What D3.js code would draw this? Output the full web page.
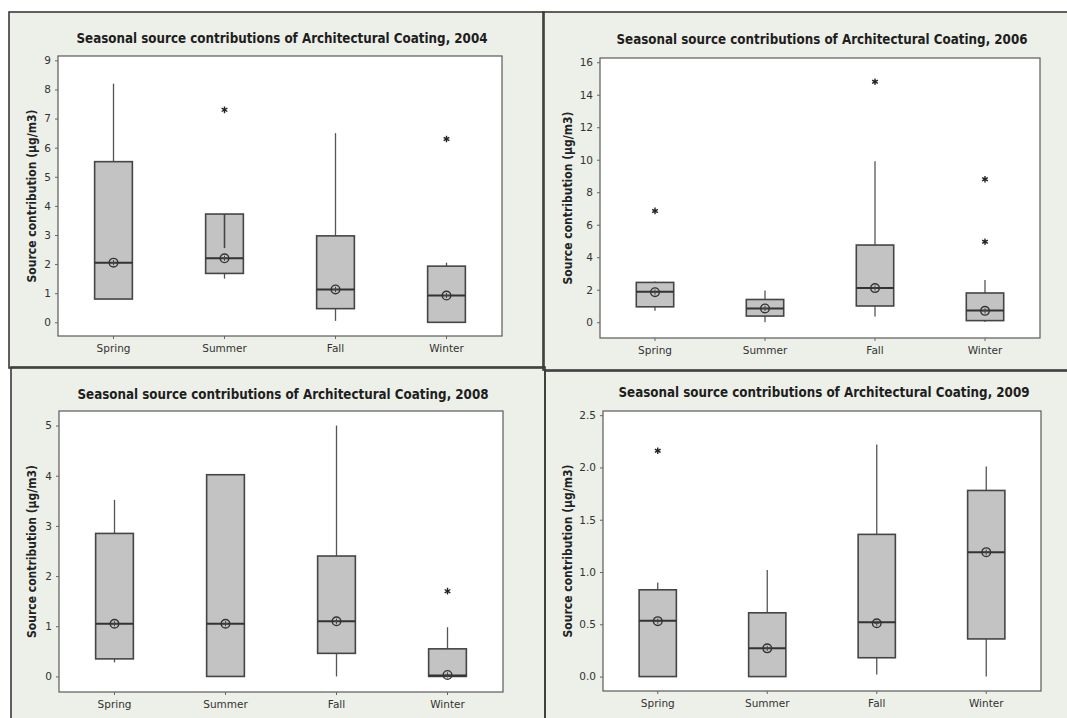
<!DOCTYPE html>
<html>
<head>
<meta charset="utf-8">
<script src="https://cdn.jsdelivr.net/npm/d3@7"></script>
<style>
  html, body { margin: 0; padding: 0; background: #ffffff; }
  svg { display: block; }
</style>
</head>
<body>
<svg id="chart" width="1067" height="718"></svg>
<script>
// Seasonal box-plot summaries (µg/m3) for each year.
const seasons = ["Spring", "Summer", "Fall", "Winter"];
const years = [2004, 2006, 2008, 2009];

const stats2004 = [
  { low: 0.8,  q1: 0.8,  median: 2.05, mean: 2.05, q3: 5.52, high: 8.2,  outliers: [] },
  { low: 1.5,  q1: 1.68, median: 2.2,  mean: 2.2,  q3: 3.72, high: 3.72, outliers: [7.3], inner: [2.55, 3.72] },
  { low: 0.05, q1: 0.47, median: 1.13, mean: 1.13, q3: 2.97, high: 6.5,  outliers: [] },
  { low: 0,    q1: 0,    median: 0.92, mean: 0.92, q3: 1.93, high: 2.05, outliers: [6.3] }
];
const stats2006 = [
  { low: 0.7,  q1: 0.95, median: 1.88, mean: 1.85, q3: 2.45, high: 2.5,  outliers: [6.85] },
  { low: 0,    q1: 0.38, median: 0.85, mean: 0.85, q3: 1.4,  high: 1.95, outliers: [] },
  { low: 0.35, q1: 1.0,  median: 2.1,  mean: 2.1,  q3: 4.75, high: 9.9,  outliers: [14.8] },
  { low: 0.02, q1: 0.1,  median: 0.72, mean: 0.7,  q3: 1.8,  high: 2.6,  outliers: [4.95, 8.8] }
];
const stats2008 = [
  { low: 0.28, q1: 0.35, median: 1.05, mean: 1.05, q3: 2.85, high: 3.52, outliers: [] },
  { low: 0,    q1: 0,    median: 1.05, mean: 1.05, q3: 4.02, high: 4.02, outliers: [] },
  { low: 0,    q1: 0.46, median: 1.1,  mean: 1.1,  q3: 2.4,  high: 5.0,  outliers: [] },
  { low: 0,    q1: 0,    median: 0.02, mean: 0.03, q3: 0.55, high: 0.98, outliers: [1.7] }
];
const stats2009 = [
  { low: 0,    q1: 0,    median: 0.535, mean: 0.53, q3: 0.83, high: 0.9,  outliers: [2.16] },
  { low: 0,    q1: 0,    median: 0.27,  mean: 0.27, q3: 0.61, high: 1.02, outliers: [] },
  { low: 0.02, q1: 0.18, median: 0.52,  mean: 0.51, q3: 1.36, high: 2.22, outliers: [] },
  { low: 0,    q1: 0.36, median: 1.19,  mean: 1.19, q3: 1.78, high: 2.01, outliers: [] }
];

const ticks2004 = [0, 1, 2, 3, 4, 5, 6, 7, 8, 9];
const ticks2006 = [0, 2, 4, 6, 8, 10, 12, 14, 16];
const ticks2008 = [0, 1, 2, 3, 4, 5];
const ticks2009 = [0.0, 0.5, 1.0, 1.5, 2.0, 2.5];

const yLabel = "Source contribution (µg/m3)";
const titlePrefix = "Seasonal source contributions of Architectural Coating, ";

// Panel frames, plot areas and value ranges.
const panels = [
  { year: years[0], stats: stats2004, ticks: ticks2004, fmt: d3.format("d"),
    frame: [9, 12, 544, 368], plot: [58, 56, 502, 336], domain: [-0.47, 9.15],
    titleY: 43, labelX: 32 },
  { year: years[1], stats: stats2006, ticks: ticks2006, fmt: d3.format("d"),
    frame: [543, 12, 1075, 370], plot: [600, 58, 1040, 338], domain: [-0.97, 16.26],
    titleY: 44, labelX: 568 },
  { year: years[2], stats: stats2008, ticks: ticks2008, fmt: d3.format("d"),
    frame: [11, 367, 545, 725], plot: [59, 411, 503, 692], domain: [-0.31, 5.29],
    titleY: 399, labelX: 32 },
  { year: years[3], stats: stats2009, ticks: ticks2009, fmt: d3.format(".1f"),
    frame: [545, 371, 1075, 725], plot: [603, 411, 1041, 691], domain: [-0.138, 2.54],
    titleY: 397, labelX: 568 }
];

const svg = d3.select("#chart");

const frameFill = "#edf0e8";
const frameStroke = "#3a3a3a";
const boxFill = "#c3c3c3";
const boxStroke = "#454545";
const lineColor = "#555555";
const textColor = "#333333";

// Panel backgrounds first, borders afterwards so shared edges stay crisp.
panels.forEach(p => {
  const [x0, y0, x1, y1] = p.frame;
  svg.append("rect").attr("x", x0).attr("y", y0)
    .attr("width", x1 - x0).attr("height", y1 - y0)
    .attr("fill", frameFill);
});
panels.forEach(p => {
  const [x0, y0, x1, y1] = p.frame;
  svg.append("rect").attr("x", x0).attr("y", y0)
    .attr("width", x1 - x0).attr("height", y1 - y0)
    .attr("fill", "none").attr("stroke", frameStroke).attr("stroke-width", 1.6);
});

panels.forEach(p => {
  const [px0, py0, px1, py1] = p.plot;
  const g = svg.append("g");

  const x = d3.scaleBand().domain(seasons).range([px0, px1]);
  const y = d3.scaleLinear().domain(p.domain).range([py1, py0]);
  const boxW = x.bandwidth() * 0.34;

  // Title
  g.append("text")
    .attr("x", (px0 + px1) / 2 + 2).attr("y", p.titleY)
    .attr("text-anchor", "middle")
    .attr("font-family", "'DejaVu Sans Condensed', Lato, sans-serif")
    .attr("font-weight", "bold").attr("font-size", 13.5)
    .attr("fill", "#1e1e1e")
    .attr("textLength", 411).attr("lengthAdjust", "spacingAndGlyphs")
    .text(titlePrefix + p.year);

  // Plot area
  g.append("rect").attr("x", px0).attr("y", py0)
    .attr("width", px1 - px0).attr("height", py1 - py0)
    .attr("fill", "#ffffff").attr("stroke", "#5a5a5a").attr("stroke-width", 1.2);

  // Y axis
  const yAxis = g.append("g").attr("transform", `translate(${px0},0)`)
    .call(d3.axisLeft(y).tickValues(p.ticks).tickFormat(p.fmt).tickSize(3).tickPadding(4));
  yAxis.select(".domain").remove();
  yAxis.selectAll(".tick line").attr("stroke", "#666");
  yAxis.selectAll(".tick text")
    .attr("font-family", "'DejaVu Sans', Verdana, sans-serif")
    .attr("font-size", 10.5).attr("fill", textColor);

  // X axis
  const xAxis = g.append("g").attr("transform", `translate(0,${py1})`)
    .call(d3.axisBottom(x).tickSize(3).tickPadding(6));
  xAxis.select(".domain").remove();
  xAxis.selectAll(".tick line").attr("stroke", "#666");
  xAxis.selectAll(".tick text")
    .attr("font-family", "'DejaVu Sans', Verdana, sans-serif")
    .attr("font-size", 10.5).attr("fill", textColor);

  // Y axis label
  g.append("text")
    .attr("transform", `translate(${p.labelX + 4},${(py0 + py1) / 2}) rotate(-90)`)
    .attr("text-anchor", "middle")
    .attr("font-family", "'DejaVu Sans Condensed', Lato, sans-serif")
    .attr("font-weight", "bold").attr("font-size", 11.5)
    .attr("fill", "#222")
    .attr("textLength", 173).attr("lengthAdjust", "spacingAndGlyphs")
    .text(yLabel);

  // Boxes
  p.stats.forEach((s, i) => {
    const cx = x(seasons[i]) + x.bandwidth() / 2;
    const bg = g.append("g");

    // whiskers
    if (s.high > s.q3) {
      bg.append("line").attr("x1", cx).attr("x2", cx)
        .attr("y1", y(s.q3)).attr("y2", y(s.high))
        .attr("stroke", lineColor).attr("stroke-width", 1.3);
    }
    if (s.low < s.q1) {
      bg.append("line").attr("x1", cx).attr("x2", cx)
        .attr("y1", y(s.q1)).attr("y2", y(s.low))
        .attr("stroke", lineColor).attr("stroke-width", 1.3);
    }

    // box
    bg.append("rect")
      .attr("x", cx - boxW / 2).attr("y", y(s.q3))
      .attr("width", boxW).attr("height", Math.max(0, y(s.q1) - y(s.q3)))
      .attr("fill", boxFill).attr("stroke", boxStroke).attr("stroke-width", 1.6);

    if (s.inner) {
      bg.append("line").attr("x1", cx).attr("x2", cx)
        .attr("y1", y(s.inner[0])).attr("y2", y(s.inner[1]))
        .attr("stroke", boxStroke).attr("stroke-width", 1.6);
    }

    // median
    bg.append("line")
      .attr("x1", cx - boxW / 2).attr("x2", cx + boxW / 2)
      .attr("y1", y(s.median)).attr("y2", y(s.median))
      .attr("stroke", "#333").attr("stroke-width", 2);

    // mean symbol: circle with cross
    const my = y(s.mean);
    bg.append("circle").attr("cx", cx).attr("cy", my).attr("r", 4.3)
      .attr("fill", "none").attr("stroke", "#333").attr("stroke-width", 1.4);
    bg.append("path")
      .attr("d", `M${cx - 2.6},${my}H${cx + 2.6}M${cx},${my - 2.6}V${my + 2.6}`)
      .attr("stroke", "#444").attr("stroke-width", 1);

    // outliers
    s.outliers.forEach(v => {
      bg.append("path")
        .attr("transform", `translate(${cx},${y(v)})`)
        .attr("d", d3.symbol(d3.symbolAsterisk, 30)())
        .attr("fill", "none").attr("stroke", "#222").attr("stroke-width", 1.4);
    });
  });
});
</script>
</body>
</html>
